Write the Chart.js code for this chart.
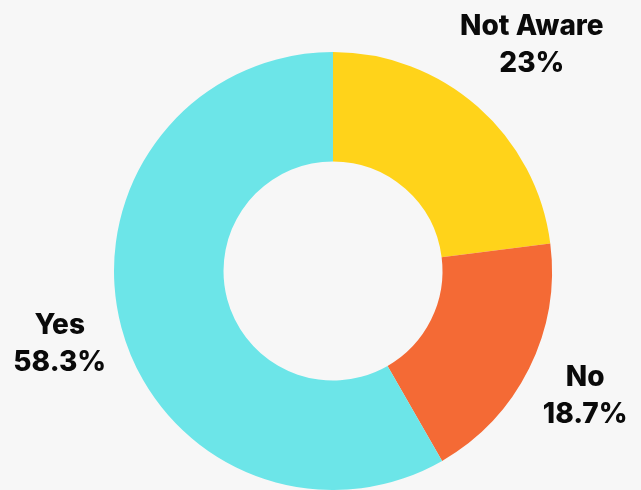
<!DOCTYPE html>
<html>
<head>
<meta charset="utf-8">
<script src="https://cdn.jsdelivr.net/npm/chart.js@4/dist/chart.umd.min.js"></script>
<style>
html,body{margin:0;padding:0;background:#f7f7f7;}
#wrap{width:641px;height:490px;position:relative;}
</style>
</head>
<body>
<div id="wrap"><canvas id="c" width="641" height="490"></canvas></div>
<script>
const categories = ["Not Aware", "No", "Yes"];
const values = [23, 18.7, 58.3];
const valueLabels = ["23%", "18.7%", "58.3%"];
const colors = ["#FFD31A", "#F46A35", "#6CE5E8"];

const labelPlugin = {
  id: 'outerLabels',
  afterDatasetsDraw(chart) {
    const ctx = chart.ctx;
    const meta = chart.getDatasetMeta(0);
    ctx.save();
    ctx.font = '800 28px Inter, "Liberation Sans", sans-serif';
    ctx.fillStyle = '#0a0a0a';
    ctx.textAlign = 'center';
    ctx.textBaseline = 'middle';
    const lineH = 37;
    meta.data.forEach((arc, i) => {
      const p = arc.getProps(['x','y','startAngle','endAngle','outerRadius'], true);
      const mid = (p.startAngle + p.endAngle) / 2;
      const dx = Math.cos(mid), dy = Math.sin(mid);
      const lines = [categories[i], valueLabels[i]];
      const w = Math.max(...lines.map(l => ctx.measureText(l).width));
      const h = lineH * lines.length - 12;
      const proj = Math.abs(dx) * w / 2 + Math.abs(dy) * h / 2;
      const d = p.outerRadius + 11 + proj;
      const cx = p.x + dx * d, cy = p.y + dy * d;
      lines.forEach((l, k) => {
        ctx.fillText(l, cx, cy + (k - (lines.length - 1) / 2) * lineH);
      });
    });
    ctx.restore();
  }
};

new Chart(document.getElementById('c'), {
  type: 'doughnut',
  data: {
    labels: categories,
    datasets: [{
      data: values,
      backgroundColor: colors,
      borderWidth: 0
    }]
  },
  options: {
    responsive: false,
    animation: false,
    cutout: '50%',
    layout: { padding: { top: 52, bottom: 0, left: 25, right: 0 } },
    plugins: {
      legend: { display: false },
      tooltip: { enabled: false }
    }
  },
  plugins: [labelPlugin]
});
</script>
</body>
</html>
